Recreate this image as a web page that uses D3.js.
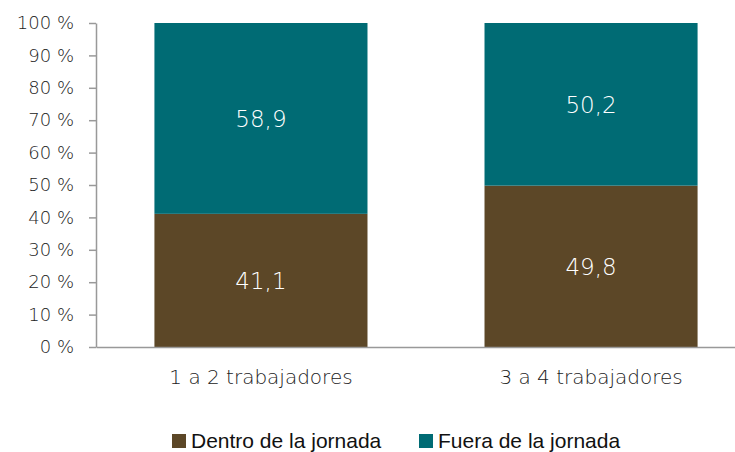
<!DOCTYPE html>
<html>
<head>
<meta charset="utf-8">
<style>
  body { margin: 0; background: #fff; }
  svg text { font-family: "DejaVu Sans", sans-serif; }
</style>
<script src="https://cdnjs.cloudflare.com/ajax/libs/d3/7.8.5/d3.min.js"></script>
</head>
<body>
<svg id="chart" width="735" height="452"></svg>
<script>
const categories = ["1 a 2 trabajadores", "3 a 4 trabajadores"];
const seriesNames = ["Dentro de la jornada", "Fuera de la jornada"];
const dentro = [41.1, 49.8];
const fuera = [58.9, 50.2];
const yTicks = [0, 10, 20, 30, 40, 50, 60, 70, 80, 90, 100];
const colors = ["#5c4727", "#006b74"];

const svg = d3.select("#chart");
const width = 735, height = 452;
const margin = { left: 96, top: 23, bottom: 105 };
const axisFont = "'DejaVu Sans', sans-serif";

// plot area runs past the right edge of the picture, as in the reference
const x = d3.scaleBand().domain(categories)
  .range([margin.left, 756]).paddingInner(0.3545).paddingOuter(0.177);
const y = d3.scaleLinear().domain([0, 100]).range([height - margin.bottom, margin.top]);

const rows = categories.map((c, i) => ({ cat: c, "Dentro de la jornada": dentro[i], "Fuera de la jornada": fuera[i] }));
const stacked = d3.stack().keys(seriesNames)(rows);

// bars
const layers = svg.append("g").selectAll("g").data(stacked).join("g")
  .attr("fill", (d, i) => colors[i]);
layers.selectAll("rect").data(d => d).join("rect")
  .attr("x", d => x(d.data.cat))
  .attr("width", x.bandwidth())
  .attr("y", d => y(d[1]))
  .attr("height", d => y(d[0]) - y(d[1]));

// value labels
layers.selectAll("text").data(d => d.map(v => ({ v, key: d.key }))).join("text")
  .attr("x", d => x(d.v.data.cat) + x.bandwidth() / 2)
  .attr("y", d => y((d.v[0] + d.v[1]) / 2))
  .attr("dy", "0.36em")
  .attr("text-anchor", "middle")
  .attr("fill", "#fff")
  .attr("font-size", 23)
  .attr("font-weight", 200)
  .text(d => d3.format(".1f")(d.v.data[d.key]).replace(".", ","));

// y axis
const yAxis = svg.append("g")
  .attr("transform", `translate(${margin.left},0)`)
  .call(d3.axisLeft(y).tickValues(yTicks).tickSize(7).tickSizeOuter(0).tickPadding(15)
    .tickFormat(d => d + " %"));
yAxis.select(".domain").attr("stroke", "#999").attr("stroke-width", 1.5);
yAxis.selectAll(".tick line").attr("stroke", "#999").attr("stroke-width", 1.5);
yAxis.selectAll(".tick text").attr("font-size", 18).attr("fill", "#222")
  .attr("font-weight", 200).attr("font-family", axisFont);

// x axis
const xAxis = svg.append("g")
  .attr("transform", `translate(0,${y(0)})`)
  .call(d3.axisBottom(x).tickSize(0).tickPadding(23));
xAxis.select(".domain").attr("stroke", "#999").attr("stroke-width", 1.5);
xAxis.selectAll(".tick text").attr("font-size", 20).attr("fill", "#222")
  .attr("font-weight", 200).attr("font-family", axisFont);

// legend
const legendX = [172, 419];
const legend = svg.append("g").selectAll("g").data(seriesNames).join("g")
  .attr("transform", (d, i) => `translate(${legendX[i]},434)`);
legend.append("rect").attr("width", 14).attr("height", 14)
  .attr("fill", (d, i) => colors[i]);
legend.append("text").attr("x", 19).attr("y", 14)
  .attr("font-size", 21)
  .attr("fill", "#111")
  .style("font-family", "'Liberation Sans', Arial, sans-serif")
  .text(d => d);
</script>
</body>
</html>
